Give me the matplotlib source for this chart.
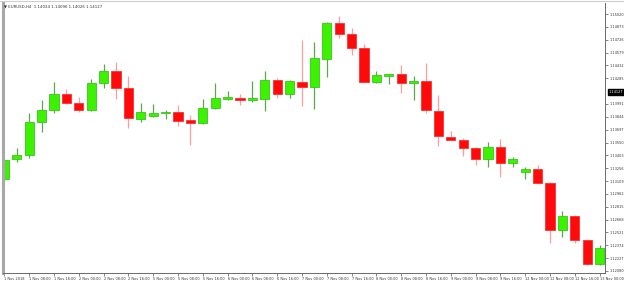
import matplotlib
matplotlib.use("Agg")
import matplotlib.pyplot as plt
import numpy as np

# ---- data (EURUSD H4, 1-13 Nov 2018) ----
opens = [1.13132, 1.13358, 1.13407, 1.13788, 1.13922, 1.14101, 1.14005, 1.13922, 1.14234, 1.14371,
         1.14170, 1.13819, 1.13853, 1.13884, 1.13895, 1.13807, 1.13770, 1.13941, 1.14051, 1.14062,
         1.14040, 1.14051, 1.14265, 1.14105, 1.14246, 1.14188, 1.14505, 1.14914, 1.14788, 1.14628,
         1.14246, 1.14316, 1.14330, 1.14227, 1.14257, 1.13914, 1.13616, 1.13579, 1.13484, 1.13361,
         1.13495, 1.13312, 1.13213, 1.13243, 1.13083, 1.12549, 1.12713, 1.12435, 1.12160]
highs = [1.13373, 1.13491, 1.13884, 1.14036, 1.14239, 1.14159, 1.14067, 1.14273, 1.14448, 1.14471,
         1.14311, 1.13998, 1.13990, 1.13922, 1.13979, 1.13865, 1.14044, 1.14234, 1.14139, 1.14101,
         1.14254, 1.14368, 1.14284, 1.14265, 1.14723, 1.14703, 1.14932, 1.14997, 1.14856, 1.14677,
         1.14368, 1.14330, 1.14437, 1.14311, 1.14456, 1.14093, 1.13682, 1.13598, 1.13495, 1.13559,
         1.13587, 1.13388, 1.13266, 1.13293, 1.13102, 1.12770, 1.12721, 1.12446, 1.12377]
lows = [1.13110, 1.13330, 1.13369, 1.13674, 1.13891, 1.13987, 1.13902, 1.13910, 1.14170, 1.14044,
        1.13712, 1.13781, 1.13838, 1.13815, 1.13739, 1.13521, 1.13767, 1.13933, 1.14036, 1.13979,
        1.14017, 1.13910, 1.14056, 1.14056, 1.13971, 1.13933, 1.14303, 1.14742, 1.14551, 1.14242,
        1.14234, 1.14219, 1.14113, 1.14036, 1.13884, 1.13510, 1.13573, 1.13396, 1.13293, 1.13266,
        1.13159, 1.13266, 1.13132, 1.13072, 1.12397, 1.12465, 1.12404, 1.12149, 1.12154]
closes = [1.13350, 1.13404, 1.13788, 1.13922, 1.14101, 1.14005, 1.13922, 1.14234, 1.14371, 1.14170,
          1.13827, 1.13895, 1.13884, 1.13895, 1.13799, 1.13770, 1.13941, 1.14059, 1.14067, 1.14040,
          1.14056, 1.14265, 1.14105, 1.14254, 1.14188, 1.14513, 1.14914, 1.14788, 1.14628, 1.14246,
          1.14322, 1.14328, 1.14227, 1.14257, 1.13922, 1.13624, 1.13579, 1.13484, 1.13361, 1.13495,
          1.13319, 1.13358, 1.13243, 1.13090, 1.12549, 1.12713, 1.12435, 1.12160, 1.12347]

x_labels = ["1 Nov 2018", "1 Nov 08:00", "1 Nov 16:00", "2 Nov 00:00", "2 Nov 08:00", "2 Nov 16:00",
            "5 Nov 00:00", "5 Nov 08:00", "5 Nov 16:00", "6 Nov 00:00", "6 Nov 08:00", "6 Nov 16:00",
            "7 Nov 00:00", "7 Nov 08:00", "7 Nov 16:00", "8 Nov 00:00", "8 Nov 08:00", "8 Nov 16:00",
            "9 Nov 00:00", "9 Nov 08:00", "9 Nov 16:00", "12 Nov 00:00", "12 Nov 08:00", "12 Nov 16:00",
            "13 Nov 00:00"]
y_ticks = [1.15020, 1.14873, 1.14726, 1.14579, 1.14432, 1.14285, 1.13991, 1.13844, 1.13697,
           1.13550, 1.13403, 1.13256, 1.13109, 1.12962, 1.12815, 1.12668, 1.12521, 1.12374, 1.12227, 1.12080]
current_price = 1.14127
title = "EURUSD,H4  1.14024 1.14096 1.14026 1.14127"

# ---- figure ----
W, H = 624, 283
fig = plt.figure(figsize=(W / 100, H / 100), dpi=100)
fig.patch.set_facecolor("white")
ax = fig.add_axes([3 / W, 10 / H, 602 / W, 270 / H])

n = len(opens)
xs = np.arange(n)
o = np.array(opens); c = np.array(closes); hi = np.array(highs); lo = np.array(lows)
up = c >= o

green = "#3df200"
green_edge = "#36c81a"
green_wick = "#5aa84a"
red = "#ff0a0a"
red_edge = "#ff3030"
red_wick = "#ff9c9c"

ax.vlines(xs[up], lo[up], hi[up], color=green_wick, lw=0.9, zorder=1)
ax.vlines(xs[~up], lo[~up], hi[~up], color=red_wick, lw=0.9, zorder=1)
bottoms = np.minimum(o, c)
heights = np.maximum(np.abs(c - o), 0.00004)
ax.bar(xs[up], heights[up], bottom=bottoms[up], width=0.74, color=green,
       edgecolor=green_edge, linewidth=0.6, zorder=2)
ax.bar(xs[~up], heights[~up], bottom=bottoms[~up], width=0.74, color=red,
       edgecolor=red_edge, linewidth=0.6, zorder=2)

ax.set_xlim(-0.12, 48.43)
ax.set_ylim(1.12057, 1.15146)

# spines
ax.spines["top"].set_visible(False)
ax.spines["left"].set_color("#a8a8a8")
ax.spines["left"].set_linewidth(2.2)
ax.spines["right"].set_color("#6a6a6a")
ax.spines["right"].set_linewidth(0.7)
ax.spines["bottom"].set_color("#6a6a6a")
ax.spines["bottom"].set_linewidth(0.7)

# y axis on right
ax.yaxis.tick_right()
ax.set_yticks(y_ticks)
ax.set_yticklabels([f"{v:.5f}" for v in y_ticks])
ax.tick_params(axis="y", which="both", left=False, right=True, length=1.8, width=0.5,
               color="#555555", labelsize=2.5, labelcolor="#333333", pad=1.5)

# x axis
ax.set_xticks(xs[::2])
ax.set_xticklabels(x_labels, ha="left")
ax.tick_params(axis="x", length=2, width=0.5, color="#555555", labelsize=2.5,
               labelcolor="#333333", pad=1.2)

# current price label
ax.annotate(f"{current_price:.5f}", xy=(1.0, current_price), xycoords=("axes fraction", "data"),
            xytext=(2.6, 0), textcoords="offset points", ha="left", va="center",
            fontsize=2.5, color="white",
            bbox=dict(boxstyle="square,pad=0.3", fc="black", ec="black"))

# title
fig.text(4 / W, 1 - 7 / H, "▼ " + title, fontsize=2.8, color="#333333", va="center", ha="left")

# top light border
fig.add_artist(plt.Line2D([0, 1], [1 - 1 / H, 1 - 1 / H], color="#cfcfcf", lw=0.8))

fig.savefig("out.png", dpi=100, facecolor="white")
